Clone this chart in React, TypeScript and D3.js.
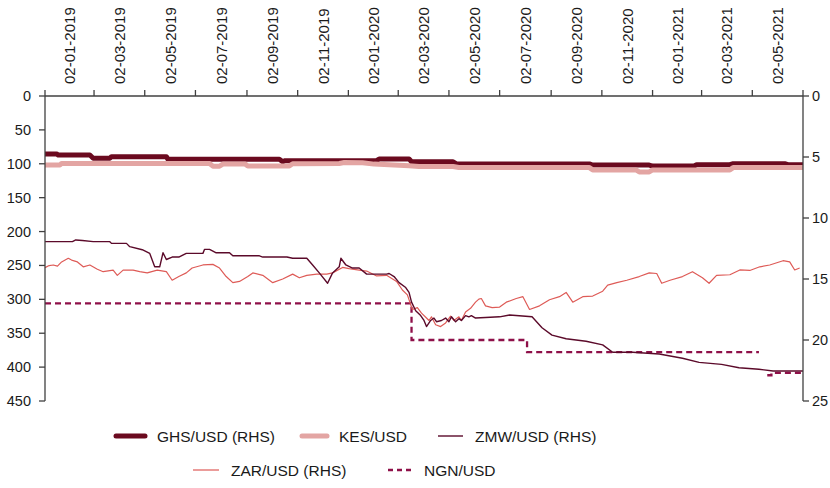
import React from "react";
import * as d3 from "d3";

// ---- Data ----
const tickDates = [
  "2019-01-02", "2019-03-02", "2019-05-02", "2019-07-02", "2019-09-02", "2019-11-02",
  "2020-01-02", "2020-03-02", "2020-05-02", "2020-07-02", "2020-09-02", "2020-11-02",
  "2021-01-02", "2021-03-02", "2021-05-02", "2021-07-02",
];
const leftTicks = [0, 50, 100, 150, 200, 250, 300, 350, 400, 450];
const rightTicks = [0, 5, 10, 15, 20, 25];

// GHS/USD (RHS)
const ghs: [string, number][] = [
  ["2019-01-02", 4.75], ["2019-01-16", 4.75], ["2019-01-18", 4.84], ["2019-02-25", 4.84],
  ["2019-03-01", 5.1], ["2019-03-21", 5.1], ["2019-03-23", 4.97], ["2019-05-28", 4.97],
  ["2019-05-30", 5.19], ["2019-10-11", 5.19], ["2019-10-15", 5.39], ["2019-10-18", 5.3],
  ["2020-02-05", 5.3], ["2020-02-08", 5.16], ["2020-03-15", 5.16], ["2020-03-18", 5.39],
  ["2020-05-07", 5.39], ["2020-05-11", 5.57], ["2020-10-18", 5.57], ["2020-10-22", 5.66],
  ["2020-12-29", 5.66], ["2021-01-02", 5.74], ["2021-02-21", 5.74], ["2021-02-24", 5.63],
  ["2021-04-05", 5.63], ["2021-04-09", 5.55], ["2021-06-10", 5.55], ["2021-06-14", 5.63],
  ["2021-07-02", 5.63],
];

// KES/USD (LHS)
const kes: [string, number][] = [
  ["2019-01-02", 101.8], ["2019-01-20", 101.8], ["2019-01-22", 99.5], ["2019-07-19", 99.5],
  ["2019-07-23", 103.5], ["2019-07-31", 103.5], ["2019-08-04", 100.5], ["2019-08-31", 100.5],
  ["2019-09-03", 103.2], ["2019-10-23", 103.2], ["2019-10-27", 100.0], ["2019-12-22", 99.5],
  ["2019-12-28", 98.2], ["2020-01-19", 98.5], ["2020-02-02", 100.5], ["2020-03-15", 102.8],
  ["2020-03-27", 104.0], ["2020-05-07", 104.0], ["2020-05-14", 105.6], ["2020-10-18", 105.6],
  ["2020-10-22", 109.0], ["2020-12-13", 109.0], ["2020-12-17", 112.0], ["2020-12-29", 112.0],
  ["2021-01-02", 109.0], ["2021-04-05", 109.0], ["2021-04-09", 105.6], ["2021-07-02", 105.6],
];

// ZMW/USD (RHS)
const zmw: [string, number][] = [
  ["2019-01-02", 11.94], ["2019-02-04", 11.94], ["2019-02-08", 11.8], ["2019-02-16", 11.85],
  ["2019-03-01", 11.94], ["2019-03-21", 11.94], ["2019-03-23", 12.08], ["2019-04-10", 12.08],
  ["2019-04-14", 12.35], ["2019-04-29", 12.6], ["2019-05-08", 12.9], ["2019-05-14", 14.0],
  ["2019-05-20", 14.0], ["2019-05-24", 12.85], ["2019-05-28", 13.4], ["2019-06-04", 13.2],
  ["2019-06-12", 13.2], ["2019-06-21", 12.9], ["2019-07-11", 12.9], ["2019-07-13", 12.57],
  ["2019-07-19", 12.57], ["2019-07-27", 12.85], ["2019-08-12", 12.85], ["2019-08-16", 13.1],
  ["2019-09-17", 13.1], ["2019-09-21", 13.2], ["2019-10-20", 13.2], ["2019-10-27", 13.3],
  ["2019-11-13", 13.3], ["2019-11-20", 13.85], ["2019-11-28", 14.5], ["2019-12-08", 15.35],
  ["2019-12-14", 14.5], ["2019-12-22", 14.0], ["2019-12-24", 13.3], ["2019-12-30", 13.85],
  ["2020-01-07", 14.1], ["2020-01-15", 14.1], ["2020-01-24", 14.6], ["2020-02-17", 14.6],
  ["2020-02-20", 14.55], ["2020-02-26", 14.8], ["2020-03-03", 15.3], ["2020-03-11", 15.7],
  ["2020-03-15", 16.1], ["2020-03-18", 16.9], ["2020-03-23", 17.6], ["2020-03-29", 18.0],
  ["2020-04-02", 18.4], ["2020-04-05", 18.9], ["2020-04-10", 18.4], ["2020-04-14", 18.2],
  ["2020-04-17", 18.5], ["2020-04-23", 18.4], ["2020-04-28", 18.2], ["2020-05-02", 18.5],
  ["2020-05-05", 18.1], ["2020-05-10", 18.5], ["2020-05-14", 18.25], ["2020-05-17", 18.4],
  ["2020-05-22", 18.0], ["2020-05-26", 18.1], ["2020-05-29", 18.0], ["2020-06-03", 18.2],
  ["2020-06-15", 18.15], ["2020-07-02", 18.1], ["2020-07-14", 17.95], ["2020-08-10", 18.1],
  ["2020-08-22", 19.0], ["2020-09-03", 19.6], ["2020-09-20", 19.9], ["2020-10-14", 20.1],
  ["2020-11-03", 20.4], ["2020-11-15", 21.0], ["2020-12-09", 21.0], ["2021-01-10", 21.15],
  ["2021-02-07", 21.5], ["2021-02-27", 21.83], ["2021-03-26", 22.0], ["2021-04-16", 22.27],
  ["2021-05-10", 22.4], ["2021-05-27", 22.54], ["2021-07-02", 22.54],
];

// ZAR/USD (RHS)
const zar: [string, number][] = [
  ["2019-01-02", 14.07], ["2019-01-07", 13.9], ["2019-01-12", 13.85], ["2019-01-17", 13.95],
  ["2019-01-22", 13.6], ["2019-01-30", 13.3], ["2019-02-03", 13.45], ["2019-02-10", 13.6],
  ["2019-02-17", 14.0], ["2019-02-25", 13.85], ["2019-03-06", 14.2], ["2019-03-13", 14.4],
  ["2019-03-25", 14.27], ["2019-03-30", 14.7], ["2019-04-06", 14.27], ["2019-04-18", 14.27],
  ["2019-04-26", 14.4], ["2019-05-05", 14.5], ["2019-05-17", 14.27], ["2019-05-28", 14.4],
  ["2019-06-04", 15.1], ["2019-06-12", 14.8], ["2019-06-21", 14.5], ["2019-06-28", 14.1],
  ["2019-07-11", 13.85], ["2019-07-23", 13.8], ["2019-07-31", 14.1], ["2019-08-08", 14.8],
  ["2019-08-16", 15.3], ["2019-08-24", 15.2], ["2019-09-03", 14.8], ["2019-09-09", 14.5],
  ["2019-09-21", 14.7], ["2019-10-03", 15.3], ["2019-10-15", 15.0], ["2019-10-27", 14.6],
  ["2019-11-04", 14.9], ["2019-11-13", 14.7], ["2019-11-25", 14.6], ["2019-12-07", 14.6],
  ["2019-12-14", 14.5], ["2019-12-26", 14.05], ["2020-01-03", 14.15], ["2020-01-15", 14.27],
  ["2020-01-24", 14.35], ["2020-02-05", 14.75], ["2020-02-17", 14.7], ["2020-02-29", 15.2],
  ["2020-03-07", 15.9], ["2020-03-13", 16.3], ["2020-03-19", 17.5], ["2020-03-25", 17.35],
  ["2020-03-30", 17.8], ["2020-04-05", 18.2], ["2020-04-08", 18.4], ["2020-04-11", 18.1],
  ["2020-04-16", 18.75], ["2020-04-22", 18.9], ["2020-04-28", 18.6], ["2020-05-04", 18.05],
  ["2020-05-08", 18.4], ["2020-05-14", 18.1], ["2020-05-17", 18.4], ["2020-05-22", 17.7],
  ["2020-05-28", 17.4], ["2020-06-03", 16.9], ["2020-06-07", 16.65], ["2020-06-10", 16.6],
  ["2020-06-15", 17.2], ["2020-06-23", 17.35], ["2020-07-02", 17.3], ["2020-07-10", 16.9],
  ["2020-07-22", 16.6], ["2020-07-30", 16.45], ["2020-08-07", 17.5], ["2020-08-19", 17.2],
  ["2020-08-31", 16.7], ["2020-09-12", 16.45], ["2020-09-20", 16.1], ["2020-09-28", 16.9],
  ["2020-10-10", 16.45], ["2020-10-22", 16.4], ["2020-11-03", 16.0], ["2020-11-09", 15.5],
  ["2020-11-20", 15.3], ["2020-12-02", 15.1], ["2020-12-17", 14.8], ["2020-12-29", 14.5],
  ["2021-01-07", 14.55], ["2021-01-13", 15.35], ["2021-01-23", 15.1], ["2021-02-07", 14.8],
  ["2021-02-19", 14.4], ["2021-03-03", 14.9], ["2021-03-11", 15.35], ["2021-03-20", 14.7],
  ["2021-04-05", 14.65], ["2021-04-17", 14.26], ["2021-04-29", 14.3], ["2021-05-11", 14.0],
  ["2021-05-23", 13.85], ["2021-06-08", 13.5], ["2021-06-16", 13.6], ["2021-06-22", 14.26],
  ["2021-06-28", 14.1],
];

// NGN/USD (LHS), null = missing
const ngn: [string, number | null][] = [
  ["2019-01-02", 306], ["2020-03-18", 360], ["2020-08-04", 378], ["2021-05-10", 378],
  ["2021-05-11", null], ["2021-05-20", 412], ["2021-05-25", 408.5], ["2021-07-02", 408.5],
];

const legendRow1 = ["GHS/USD (RHS)", "KES/USD", "ZMW/USD (RHS)"];
const legendRow2 = ["ZAR/USD (RHS)", "NGN/USD"];

// ---- Layout ----
const W = 830, H = 488;
const X0 = 45, X1 = 803, Y0 = 96, Y1 = 401;
const FONT = "'Liberation Sans', Arial, sans-serif";
const C = {
  ghs: "#6B0A1F",
  kes: "#E3A5A3",
  zmw: "#5B0A2A",
  zar: "#DE5B57",
  ngn: "#8E1049",
  axis: "#404040",
  text: "#1a1a1a",
};

const parse = d3.timeParse("%Y-%m-%d");
const fmt = d3.timeFormat("%d-%m-%Y");

export default function App() {
  const ticks = tickDates.map((s) => parse(s) as Date);
  const x = d3.scaleTime().domain([ticks[0], ticks[ticks.length - 1]]).range([X0, X1]);
  const yL = d3.scaleLinear().domain([0, 450]).range([Y0, Y1]);
  const yR = d3.scaleLinear().domain([0, 25]).range([Y0, Y1]);

  const mk = (scale: d3.ScaleLinear<number, number>) =>
    d3
      .line<[string, number | null]>()
      .defined((d) => d[1] != null)
      .x((d) => x(parse(d[0]) as Date))
      .y((d) => scale(d[1] as number));

  const ngnLine = mk(yL).curve(d3.curveStepAfter);

  const legendItem = (
    label: string,
    lx: number,
    ly: number,
    len: number,
    color: string,
    width: number,
    dash?: string
  ) => (
    <g key={label}>
      <line x1={lx} x2={lx + len} y1={ly} y2={ly} stroke={color} strokeWidth={width}
        strokeDasharray={dash} strokeLinecap={width > 3 ? "round" : "butt"} />
      <text x={lx + len + 12} y={ly} dominantBaseline="central" fontSize={15.5} fill={C.text}
        fontFamily={FONT}>{label}</text>
    </g>
  );

  return (
    <svg width={W} height={H} style={{ position: "absolute", left: 0, top: 0, background: "#fff" }}>
      {/* series */}
      <path d={mk(yR)(ghs as any) || ""} fill="none" stroke={C.ghs} strokeWidth={5} strokeLinejoin="round" />
      <path d={mk(yL)(kes as any) || ""} fill="none" stroke={C.kes} strokeWidth={5} strokeLinejoin="round" />
      <path d={ngnLine(ngn) || ""} fill="none" stroke={C.ngn} strokeWidth={2.3} strokeDasharray="6,4" />
      <path d={mk(yR)(zar as any) || ""} fill="none" stroke={C.zar} strokeWidth={1.2} strokeLinejoin="round" />
      <path d={mk(yR)(zmw as any) || ""} fill="none" stroke={C.zmw} strokeWidth={1.4} strokeLinejoin="round" />

      {/* top axis */}
      <line x1={X0} x2={X1} y1={Y0} y2={Y0} stroke={C.axis} strokeWidth={1.3} />
      {ticks.map((t, i) => (
        <line key={"tt" + i} x1={x(t)} x2={x(t)} y1={Y0 - 6} y2={Y0} stroke={C.axis} strokeWidth={1.3} />
      ))}
      {ticks.slice(0, -1).map((t, i) => {
        const cx = (x(t) + x(ticks[i + 1])) / 2;
        return (
          <text key={"tl" + i} transform={`translate(${cx},84) rotate(-90)`} textAnchor="start"
            dominantBaseline="central" fontSize={15} fill={C.text} fontFamily={FONT}>
            {fmt(t)}
          </text>
        );
      })}

      {/* left axis */}
      <line x1={X0} x2={X0} y1={Y0} y2={Y1} stroke={C.axis} strokeWidth={1.3} />
      {leftTicks.map((v) => (
        <g key={"l" + v}>
          <line x1={X0 - 6} x2={X0} y1={yL(v)} y2={yL(v)} stroke={C.axis} strokeWidth={1.3} />
          <text x={31} y={yL(v)} textAnchor="end" dominantBaseline="central" fontSize={14.5}
            fill={C.text} fontFamily={FONT}>{v}</text>
        </g>
      ))}

      {/* right axis */}
      <line x1={X1} x2={X1} y1={Y0} y2={Y1} stroke={C.axis} strokeWidth={1.3} />
      {rightTicks.map((v) => (
        <g key={"r" + v}>
          <line x1={X1} x2={X1 + 6} y1={yR(v)} y2={yR(v)} stroke={C.axis} strokeWidth={1.3} />
          <text x={812} y={yR(v)} textAnchor="start" dominantBaseline="central" fontSize={14.5}
            fill={C.text} fontFamily={FONT}>{v}</text>
        </g>
      ))}

      {/* legend */}
      {legendItem(legendRow1[0], 116, 436, 29, C.ghs, 5)}
      {legendItem(legendRow1[1], 302, 436, 25, C.kes, 5)}
      {legendItem(legendRow1[2], 438, 436, 25, C.zmw, 1.4)}
      {legendItem(legendRow2[0], 193, 470, 26, C.zar, 1.2)}
      {legendItem(legendRow2[1], 388, 470, 24, C.ngn, 2.3, "5,4")}
    </svg>
  );
}
